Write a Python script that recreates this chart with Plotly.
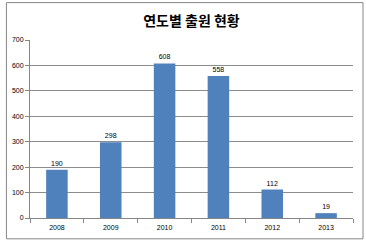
import plotly.graph_objects as go

years = ["2008", "2009", "2010", "2011", "2012", "2013"]
counts = [190, 298, 608, 558, 112, 19]
y_ticks = [0, 100, 200, 300, 400, 500, 600, 700]

fig = go.Figure(go.Bar(
    x=years, y=counts,
    marker=dict(color="#4F81BD", line=dict(width=0)),
    text=[str(v) for v in counts], textposition="outside",
    textfont=dict(size=7, color="#000000", family="Arial, Liberation Sans"),
    cliponaxis=False,
))

fig.update_layout(
    width=366, height=243,
    margin=dict(l=26, r=13, t=40, b=24),
    paper_bgcolor="white", plot_bgcolor="white",
    bargap=0.6,
    showlegend=False,
    title=dict(text="<b>연도별 출원 현황</b>", x=0.5, xref="paper", y=0.915, yanchor="middle",
               font=dict(size=14, color="#000000", family="Noto Sans CJK KR")),
    font=dict(family="Arial, Liberation Sans", size=7, color="#000000"),
    shapes=[dict(type="rect", xref="paper", yref="paper", x0=-0.073, x1=1.031, y0=-0.117, y1=1.21,
                 line=dict(color="#868686", width=1), fillcolor="rgba(0,0,0,0)", layer="below")],
)
fig.update_xaxes(showline=True, linecolor="#868686", linewidth=1, ticks="outside", ticklen=4,
                 tickcolor="#868686", tickson="boundaries", tickfont=dict(size=7), showgrid=False,
                 ticklabelstandoff=3)
fig.update_yaxes(range=[0, 700], tickvals=y_ticks, showline=True, linecolor="#868686", linewidth=1,
                 ticks="outside", ticklen=4, tickcolor="#868686", showgrid=True, gridcolor="#8c8c8c",
                 gridwidth=1, tickfont=dict(size=7), zeroline=False)

fig.write_html("out.html")
